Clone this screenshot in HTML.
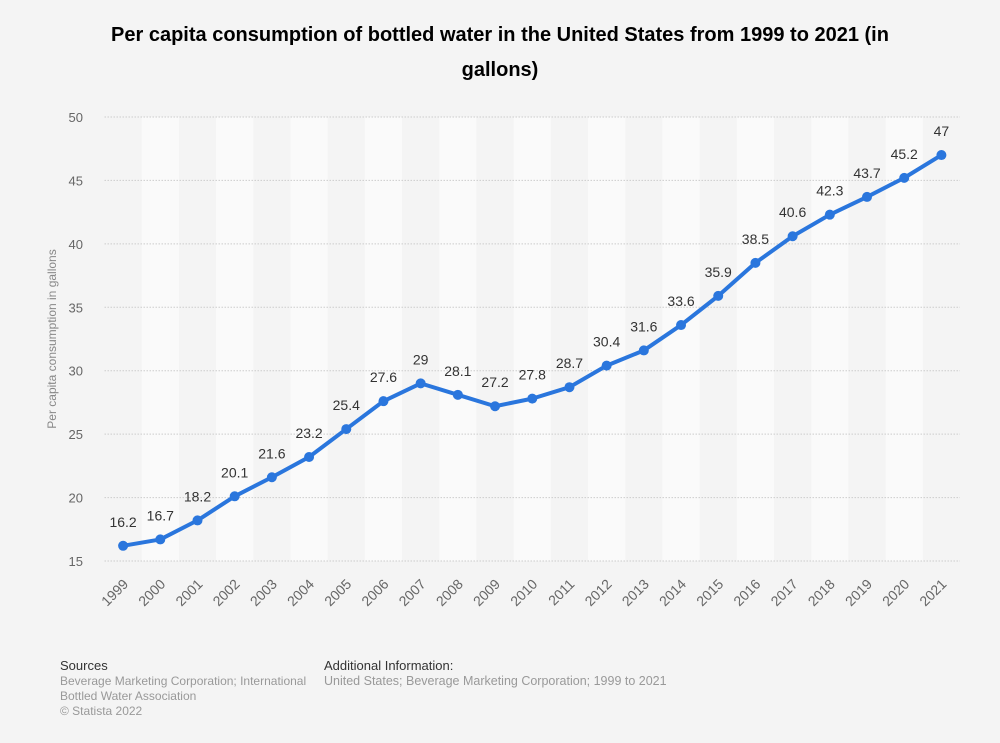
<!DOCTYPE html>
<html><head><meta charset="utf-8"><style>
body{margin:0;background:#f4f4f4;font-family:"Liberation Sans",sans-serif;}
#wrap{position:relative;width:1000px;height:743px;background:#f4f4f4;}
h1{position:absolute;left:80px;top:18px;width:840px;margin:0;text-align:center;font-size:20px;font-weight:bold;color:#000;line-height:35px;}
.foot{position:absolute;font-size:12.5px;color:#999;line-height:15px;}
.foot b{display:block;font-weight:normal;color:#333;font-size:13px;margin-bottom:1px;}
</style></head><body>
<div id="wrap">
<h1>Per capita consumption of bottled water in the United States from 1999 to 2021 (in gallons)</h1>
<svg id="chart" width="1000" height="743" style="position:absolute;left:0;top:0"></svg>
<div class="foot" style="left:60px;top:658px;width:240px;font-size:12px"><b>Sources</b><span style="white-space:nowrap">Beverage Marketing Corporation; International</span><br>Bottled Water Association<br>© Statista 2022</div>
<div class="foot" style="left:324px;top:658px;width:400px"><b>Additional Information:</b>United States; Beverage Marketing Corporation; 1999 to 2021</div>
</div>
<script>
const years=["1999","2000","2001","2002","2003","2004","2005","2006","2007","2008","2009","2010","2011","2012","2013","2014","2015","2016","2017","2018","2019","2020","2021"];
const values=[16.2,16.7,18.2,20.1,21.6,23.2,25.4,27.6,29,28.1,27.2,27.8,28.7,30.4,31.6,33.6,35.9,38.5,40.6,42.3,43.7,45.2,47];
const yTicks=[15,20,25,30,35,40,45,50];
const NS="http://www.w3.org/2000/svg";
const svg=document.getElementById('chart');
const L=104.5,R=960,T=117,B=561,yMin=15,yMax=50;
const bw=(R-L)/years.length;
const x=i=>L+bw*(i+0.5);
const y=v=>B-(v-yMin)/(yMax-yMin)*(B-T);
function mk(t,a){const e=document.createElementNS(NS,t);for(const k in a)e.setAttribute(k,a[k]);svg.appendChild(e);return e;}
years.forEach((yr,i)=>{if(i%2==1){const r=mk('rect',{x:L+bw*i,y:T,width:bw,height:B-T,fill:'#fafafa'});

}});
yTicks.forEach(t=>{const l=mk('line',{x1:L,x2:R,y1:y(t),y2:y(t),stroke:'#ccc','stroke-dasharray':'1.5,1.5'});


const tx=mk('text',{x:83,y:y(t)+5,'text-anchor':'end','font-size':13,fill:'#666'});tx.textContent=t;

});
const yt=mk('text',{transform:'translate(56,339) rotate(-90)','text-anchor':'middle','font-size':12,fill:'#888'});yt.textContent='Per capita consumption in gallons';


const p=mk('polyline',{points:values.map((v,i)=>x(i)+','+y(v)).join(' '),fill:'none',stroke:'#2a76dd','stroke-width':4,'stroke-linejoin':'round'});


values.forEach((v,i)=>{const c=mk('circle',{cx:x(i),cy:y(v),r:5,fill:'#2a76dd'});


const t=mk('text',{x:x(i),y:y(v)-19,'text-anchor':'middle','font-size':14,fill:'#333'});t.textContent=v;


const xl=mk('text',{transform:`translate(${x(i)+6},${B+24}) rotate(-45)`,'text-anchor':'end','font-size':14,fill:'#666'});xl.textContent=years[i];

});
</script>
</body></html>
